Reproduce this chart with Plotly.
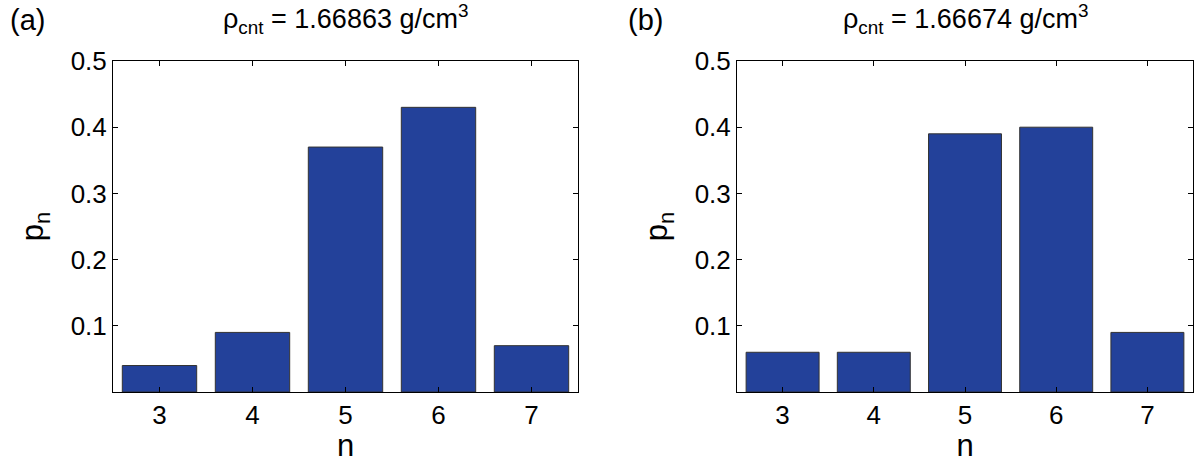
import plotly.graph_objects as go

n_values = [3, 4, 5, 6, 7]
p_a = [0.04, 0.09, 0.37, 0.43, 0.07]
p_b = [0.06, 0.06, 0.39, 0.40, 0.09]
y_ticks = [0.1, 0.2, 0.3, 0.4, 0.5]
y_ticktext = ["0.1", "0.2", "0.3", "0.4", "0.5"]
title_a = "ρ<sub>cnt</sub> = 1.66863 g/cm<sup>3</sup>"
title_b = "ρ<sub>cnt</sub> = 1.66674 g/cm<sup>3</sup>"

W, H = 1202, 463
FONT = "Liberation Sans, Arial, Helvetica, sans-serif"
bar_color = "#23419a"

fig = go.Figure()
fig.add_trace(go.Bar(x=n_values, y=p_a, xaxis="x", yaxis="y",
                     marker=dict(color=bar_color, line=dict(color="#333333", width=1)),
                     showlegend=False))
fig.add_trace(go.Bar(x=n_values, y=p_b, xaxis="x2", yaxis="y2",
                     marker=dict(color=bar_color, line=dict(color="#333333", width=1)),
                     showlegend=False))

yd = [1 - 392 / H, 1 - 61 / H]
common_x = dict(range=[2.5, 7.5], tickvals=n_values, ticks="inside", ticklen=5,
                tickcolor="black", showline=True, linecolor="black", linewidth=1,
                mirror="allticks", showgrid=False, zeroline=False, automargin=False,
                tickfont=dict(family=FONT, size=26, color="black"),
                title=dict(text="n", font=dict(family=FONT, size=31, color="black"), standoff=2))
common_y = dict(range=[0, 0.5], tickvals=y_ticks, ticktext=y_ticktext, ticks="inside",
                ticklen=5, tickcolor="black", showline=True, linecolor="black", linewidth=1,
                mirror="allticks", showgrid=False, zeroline=False, automargin=False,
                tickfont=dict(family=FONT, size=26, color="black"),
                title=dict(text="p<sub>n</sub>", font=dict(family=FONT, size=31, color="black"), standoff=17))

fig.update_layout(
    width=W, height=H,
    margin=dict(l=0, r=0, t=0, b=0),
    paper_bgcolor="white", plot_bgcolor="white",
    bargap=0.2,
    xaxis=dict(domain=[113 / W, 578 / W], anchor="y", **common_x),
    yaxis=dict(domain=yd, anchor="x", **common_y),
    xaxis2=dict(domain=[737 / W, 1193 / W], anchor="y2", **common_x),
    yaxis2=dict(domain=yd, anchor="x2", **common_y),
    annotations=[
        dict(text=title_a, x=(113 + 578) / 2 / W, y=1 - 19 / H, xref="paper", yref="paper",
             showarrow=False, font=dict(family=FONT, size=27, color="black"),
             xanchor="center", yanchor="middle"),
        dict(text=title_b, x=(737 + 1193) / 2 / W, y=1 - 19 / H, xref="paper", yref="paper",
             showarrow=False, font=dict(family=FONT, size=27, color="black"),
             xanchor="center", yanchor="middle"),
        dict(text="(a)", x=8 / W, y=1 - 20 / H, xref="paper", yref="paper",
             showarrow=False, font=dict(family=FONT, size=29, color="black"),
             xanchor="left", yanchor="middle"),
        dict(text="(b)", x=626 / W, y=1 - 20 / H, xref="paper", yref="paper",
             showarrow=False, font=dict(family=FONT, size=29, color="black"),
             xanchor="left", yanchor="middle"),
    ],
)

fig.write_html("out.html", config={"displayModeBar": False},
               post_script="document.body.style.margin='0';document.body.style.overflow='hidden';")
